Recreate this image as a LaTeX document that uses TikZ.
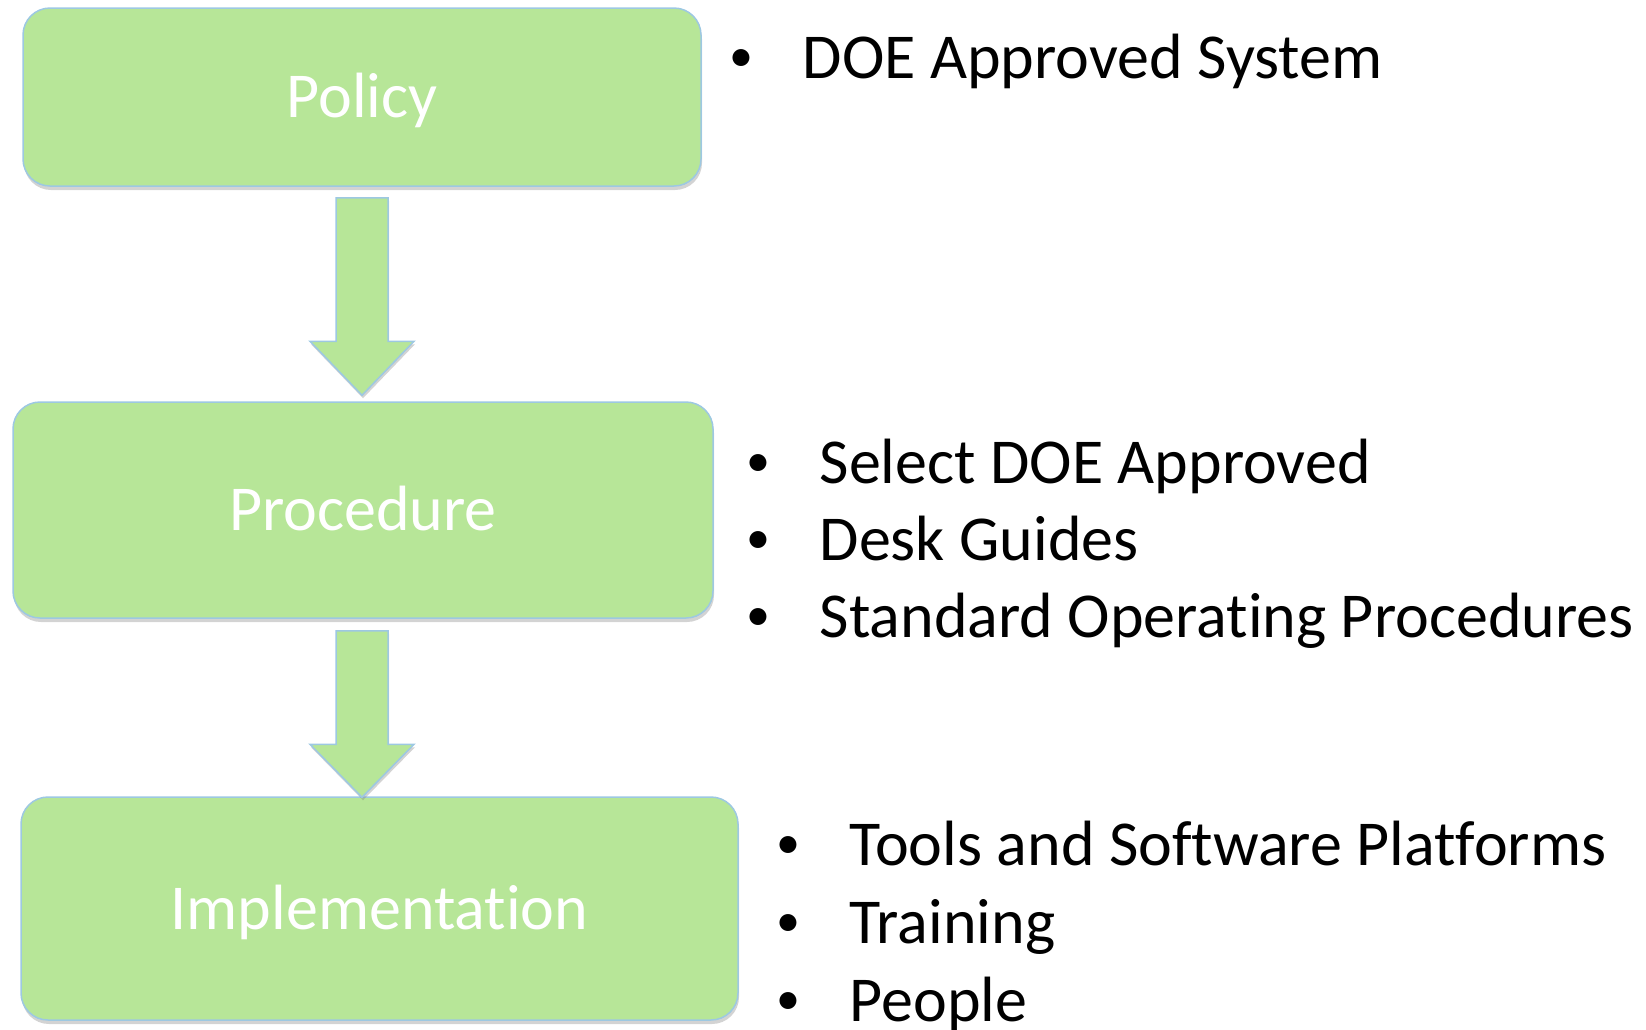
\documentclass[tikz,border=0pt]{standalone}
\usepackage{fontspec}
\setmainfont[Ligatures=NoCommon]{Carlito}
\usetikzlibrary{calc,shadows}

\definecolor{stagefill}{HTML}{B7E698}
\definecolor{stageline}{HTML}{9DC8E2}

% small bullet, centred on its point, raised to mid cap height
\newcommand{\listbullet}{\makebox[0pt]{\raisebox{6.2pt}{\fontsize{48}{48}\selectfont\textbullet}}\hspace{61.5pt}}

\tikzset{
  bigfont/.style={font=\fontsize{64}{76}\selectfont},
  stage/.style={bigfont, draw=stageline, line width=1.5pt, fill=stagefill,
    rounded corners=27pt, text=white, text height=41pt, text depth=0pt,
    drop shadow={shadow xshift=1pt, shadow yshift=-4pt, opacity=.35}},
  flow/.style={draw=stageline, line width=1.5pt, fill=stagefill,
    drop shadow={shadow xshift=1pt, shadow yshift=-3pt, opacity=.35}},
  item/.style={bigfont, anchor=base west, inner sep=0pt},
}

\begin{document}
\begin{tikzpicture}[x=1pt,y=-1pt]
  \useasboundingbox (0,0) rectangle (1646,1029);

  % the three stages
  \node[stage, minimum width=678pt, minimum height=178pt] (policy) at (362,97) {Policy};
  \node[stage, minimum width=700pt, minimum height=216pt] (proc) at (363,510) {Procedure};
  \node[stage, minimum width=717pt, minimum height=223pt] (impl) at (379.5,908.5) {Implementation};

  % block arrows between stages
  \draw[flow] ($(policy.south)+(-26,11)$) -- ($(policy.south |- proc.north)+(-26,-60)$)
    -- ($(policy.south |- proc.north)+(-52,-60)$) -- ($(policy.south |- proc.north)+(0,-6)$)
    -- ($(policy.south |- proc.north)+(52,-60)$) -- ($(policy.south |- proc.north)+(26,-60)$)
    -- ($(policy.south)+(26,11)$) -- cycle;
  \draw[flow] ($(policy.south |- proc.south)+(-26,12)$) -- ($(policy.south |- impl.north)+(-26,-52)$)
    -- ($(policy.south |- impl.north)+(-52,-52)$) -- ($(policy.south |- impl.north)+(0,1)$)
    -- ($(policy.south |- impl.north)+(52,-52)$) -- ($(policy.south |- impl.north)+(26,-52)$)
    -- ($(policy.south |- proc.south)+(26,12)$) -- cycle;

  % policy notes
  \node[item] (doe) at (741,78) {\listbullet DOE Approved System};

  % procedure notes
  \node[item] (sel) at (758,483) {\listbullet Select DOE Approved};
  \node[item] (desk) at (758,560) {\listbullet Desk Guides};
  \node[item] (sop) at (758,637) {\listbullet Standard Operating Procedures};

  % implementation notes
  \node[item] (tools) at (788,865) {\listbullet Tools and Software Platforms};
  \node[item] (train) at (788,943) {\listbullet Training};
  \node[item] (people) at (788,1021) {\listbullet People};
\end{tikzpicture}
\end{document}
